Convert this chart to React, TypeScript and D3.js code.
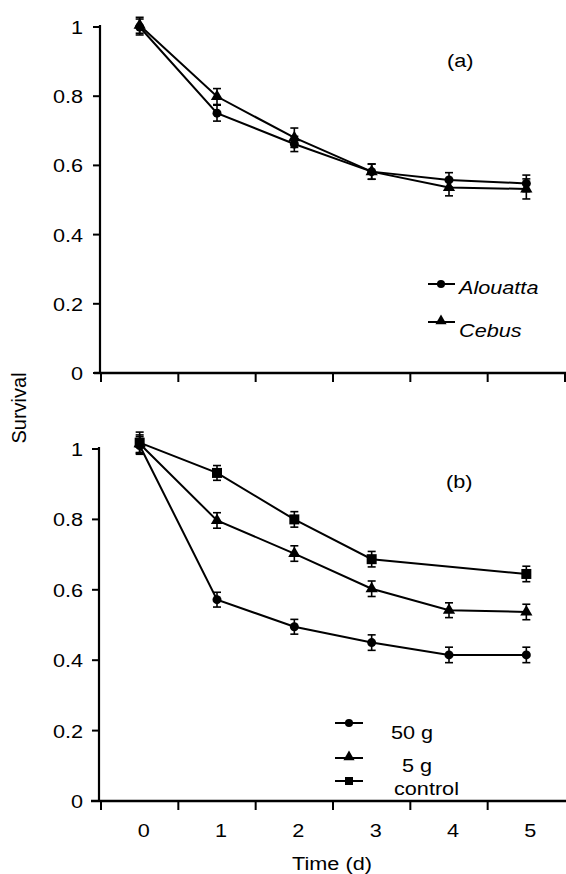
import React from "react";
import * as d3 from "d3";

const days = [0, 1, 2, 3, 4, 5];
const dayLabels = ["0", "1", "2", "3", "4", "5"];
const yTicks = [0, 0.2, 0.4, 0.6, 0.8, 1];
const yTickLabels = ["0", "0.2", "0.4", "0.6", "0.8", "1"];

// Panel (a)
const alouatta = [1.0, 0.751, 0.662, 0.582, 0.558, 0.548];
const alouattaErr = [0.023, 0.023, 0.022, 0.022, 0.021, 0.024];
const cebus = [1.005, 0.799, 0.68, 0.582, 0.536, 0.532];
const cebusErr = [0.023, 0.023, 0.028, 0.022, 0.024, 0.029];

// Panel (b) — control has no observation on day 4
const dose50 = [1.01, 0.572, 0.495, 0.45, 0.415, 0.415];
const dose50Err = [0.025, 0.021, 0.021, 0.022, 0.022, 0.022];
const dose5 = [1.015, 0.797, 0.703, 0.603, 0.542, 0.537];
const dose5Err = [0.025, 0.022, 0.022, 0.022, 0.021, 0.022];
const control = [1.018, 0.932, 0.8, 0.687, null, 0.645];
const controlErr = [0.03, 0.021, 0.022, 0.022, null, 0.022];

const FONT = "'Liberation Sans', Arial, Helvetica, sans-serif";
const FS = 19;
const SX = 1.14;

function T({ x, y, children, anchor = "start", italic = false }: any) {
  return (
    <g transform={`translate(${x},${y}) scale(${SX},1)`}>
      <text
        x={0}
        y={0}
        textAnchor={anchor}
        fontFamily={FONT}
        fontSize={FS}
        fontStyle={italic ? "italic" : "normal"}
        fill="#000"
      >
        {children}
      </text>
    </g>
  );
}

function Marker({ type, cx, cy, size = 10 }: any) {
  if (type === "circle") return <circle cx={cx} cy={cy} r={size * 0.45} fill="#000" />;
  if (type === "triangle") {
    const sym = d3.symbol().type(d3.symbolTriangle).size(size * size * 0.45)();
    return <path d={sym as string} transform={`translate(${cx},${cy})`} fill="#000" />;
  }
  return <rect x={cx - size / 2} y={cy - size / 2} width={size} height={size} fill="#000" />;
}

function Series({ vals, errs, x, y, type, msize }: any) {
  const pts = days
    .map((d, i) => ({ d, v: vals[i], e: errs[i] }))
    .filter((p) => p.v !== null && p.v !== undefined);
  const cxOf = (d: number) => (x(d) as number) + x.bandwidth() / 2;
  const line = d3
    .line<any>()
    .x((p) => cxOf(p.d))
    .y((p) => y(p.v));
  const cap = 4;
  return (
    <g>
      <path d={line(pts) as string} fill="none" stroke="#000" strokeWidth={2} />
      {pts.map((p, i) => {
        const cx = cxOf(p.d);
        const y1 = y(p.v + p.e);
        const y2 = y(p.v - p.e);
        return (
          <g key={i} stroke="#000" strokeWidth={1.6}>
            <line x1={cx} x2={cx} y1={y1} y2={y2} />
            <line x1={cx - cap} x2={cx + cap} y1={y1} y2={y1} />
            <line x1={cx - cap} x2={cx + cap} y1={y2} y2={y2} />
          </g>
        );
      })}
      {pts.map((p, i) => (
        <Marker key={"m" + i} type={type} cx={cxOf(p.d)} cy={y(p.v)} size={msize} />
      ))}
    </g>
  );
}

function YAxis({ y, x0, top, bottom }: any) {
  return (
    <g>
      <line x1={x0} x2={x0} y1={top} y2={bottom} stroke="#000" strokeWidth={2.2} />
      {yTicks.map((t, i) => (
        <g key={i}>
          <line x1={x0 - 7} x2={x0} y1={y(t)} y2={y(t)} stroke="#000" strokeWidth={2} />
          <T x={83} y={y(t) + 7} anchor="end">
            {yTickLabels[i]}
          </T>
        </g>
      ))}
    </g>
  );
}

export default function App() {
  const x = d3.scaleBand<number>().domain(days).range([101, 565]).padding(0);
  const yA = d3.scaleLinear().domain([0, 1]).range([373, 27]);
  const yB = d3.scaleLinear().domain([0, 1]).range([801, 449]);
  const bw = x.bandwidth();
  const boundaries = days.map((d) => x(d) as number).concat([(x(5) as number) + bw]);

  return (
    <svg width={566} height={874} style={{ position: "absolute", left: 0, top: 0, background: "#fff" }}>
      <rect x={0} y={0} width={566} height={874} fill="#fff" />

      {/* Panel (a) */}
      <YAxis y={yA} x0={100} top={25} bottom={373} />
      <line x1={94} x2={566} y1={373} y2={373} stroke="#000" strokeWidth={2.4} />
      {boundaries.map((b, i) => (
        <line key={i} x1={b} x2={b} y1={373} y2={382} stroke="#000" strokeWidth={2} />
      ))}
      <Series vals={alouatta} errs={alouattaErr} x={x} y={yA} type="circle" msize={10} />
      <Series vals={cebus} errs={cebusErr} x={x} y={yA} type="triangle" msize={12} />
      <T x={447} y={67}>(a)</T>

      {/* Legend (a) */}
      <line x1={428} x2={455} y1={284} y2={284} stroke="#000" strokeWidth={2} />
      <Marker type="circle" cx={441} cy={284} size={9} />
      <T x={459} y={294} italic>Alouatta</T>
      <line x1={428} x2={455} y1={322} y2={322} stroke="#000" strokeWidth={2} />
      <Marker type="triangle" cx={441} cy={321} size={11} />
      <T x={459} y={337} italic>Cebus</T>

      {/* Panel (b) */}
      <YAxis y={yB} x0={99} top={447} bottom={801} />
      <line x1={91} x2={566} y1={801} y2={801} stroke="#000" strokeWidth={2.4} />
      {boundaries.slice(0, 6).map((b, i) => (
        <line key={i} x1={b} x2={b} y1={801} y2={810} stroke="#000" strokeWidth={2} />
      ))}
      {days.map((d, i) => (
        <T key={i} x={(x(d) as number) + bw / 2 + 4} y={837} anchor="middle">
          {dayLabels[i]}
        </T>
      ))}
      <Series vals={dose50} errs={dose50Err} x={x} y={yB} type="circle" msize={10} />
      <Series vals={dose5} errs={dose5Err} x={x} y={yB} type="triangle" msize={12} />
      <Series vals={control} errs={controlErr} x={x} y={yB} type="square" msize={10} />
      <T x={446} y={488}>(b)</T>

      {/* Legend (b) */}
      <line x1={335} x2={363} y1={723} y2={723} stroke="#000" strokeWidth={2} />
      <Marker type="circle" cx={349} cy={723} size={9} />
      <T x={391} y={739}>50 g</T>
      <line x1={335} x2={363} y1={758} y2={758} stroke="#000" strokeWidth={2} />
      <Marker type="triangle" cx={349} cy={757} size={11} />
      <T x={402} y={772}>5 g</T>
      <line x1={335} x2={363} y1={781} y2={781} stroke="#000" strokeWidth={2} />
      <Marker type="square" cx={349} cy={781} size={8} />
      <T x={394} y={795}>control</T>

      {/* Axis titles */}
      <T x={332} y={870} anchor="middle">Time (d)</T>
      <g transform="translate(26,408) rotate(-90)">
        <text x={0} y={0} textAnchor="middle" fontFamily={FONT} fontSize={20} fill="#000">
          Survival
        </text>
      </g>
    </svg>
  );
}
